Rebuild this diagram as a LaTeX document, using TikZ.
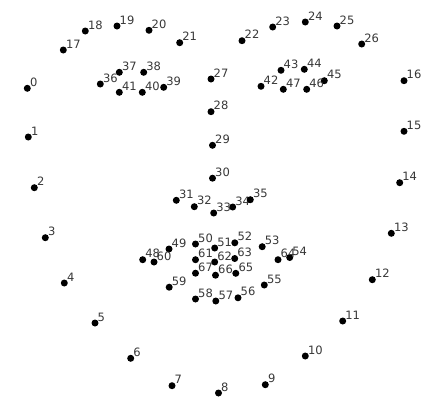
\documentclass[tikz,border=0pt]{standalone}
\usepackage{fontspec}
\setmainfont{DejaVu Sans}
\usepackage{xcolor}
\usepackage{tikz}
\usetikzlibrary{positioning}
\definecolor{lInk}{HTML}{383838}
\tikzset{
  lmkdot/.style={circle, fill=black, inner sep=0pt, minimum size=7pt},
  lmknum/.style={font=\fontsize{11.5}{11.5}\selectfont, text=lInk, inner sep=0pt, anchor=base west},
}

\begin{document}
\begin{tikzpicture}[x=1pt, y=-1pt]
  \useasboundingbox[fill=white] (0,0) rectangle (433,407);
  % jaw, brows, nose, eyes, mouth
  \foreach \i/\px/\py in {
      0/27.3/88.3, 1/28.3/137, 2/34.3/187.7, 3/45.3/237.7, 4/64.3/283,
      5/95/323, 6/130.7/358.3, 7/172/385.7, 8/218.5/393, 9/265.3/384.7,
      10/305.3/356, 11/342.7/321, 12/372.3/279.7, 13/391.3/233.3,
      14/399.7/182.7, 15/404/131.3, 16/404/80.7,
      17/63.3/50, 18/85.3/31, 19/117/26, 20/149/30.3, 21/179.7/42.7,
      22/242/40.7, 23/272.7/27, 24/305.3/22, 25/337/26, 26/361.7/44,
      27/211/79, 28/211/111.7, 29/212.5/145.3, 30/212.5/178.2,
      31/176.3/200.3, 32/194.3/206.7, 33/213.7/213, 34/232.7/207, 35/250.3/199.7,
      36/100.3/84, 37/119.3/72.3, 38/143.7/72.3, 39/163.7/87.3, 40/142.3/92.3, 41/119.3/92.3,
      42/261/86.3, 43/281/70.3, 44/304.3/69.3, 45/324.3/80.7, 46/306.7/89.3, 47/283.3/89.3,
      48/142.7/259.7, 49/169/249, 50/195.5/244, 51/214.7/248, 52/234.8/242.8,
      53/262.2/246.7, 54/289.7/257.5, 55/264.3/285, 56/238/297.8, 57/215.8/301,
      58/195.5/299, 59/169.2/287.2, 60/154/262, 61/195.5/259.7, 62/214.7/262,
      63/234.7/258.5, 64/278/259.7, 65/235.8/273.3, 66/215.5/275.2, 67/195.5/273.2} {
    \node[lmkdot] (p\i) at (\px,\py) {};
    \node[lmknum] (n\i) at ([shift={(2.5pt,2pt)}]p\i.center) {\i};
  }
\end{tikzpicture}
\end{document}
